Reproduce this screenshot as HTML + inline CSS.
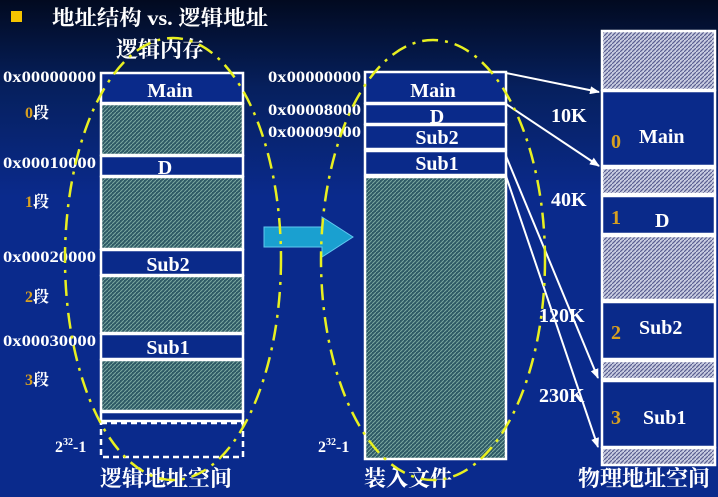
<!DOCTYPE html>
<html><head><meta charset="utf-8"><style>
body{margin:0;width:718px;height:492px;overflow:hidden;background:#0a2a8c}
svg text{font-family:"Liberation Serif","Noto Serif CJK SC",serif;font-weight:bold;fill:#fff}
</style></head><body>
<svg width="718" height="492" xmlns="http://www.w3.org/2000/svg">
<defs>
<linearGradient id="bg" x1="0" y1="0" x2="0" y2="1">
<stop offset="0" stop-color="#020a20"/><stop offset="0.18" stop-color="#06205e"/><stop offset="0.4" stop-color="#0a2a8c"/><stop offset="1" stop-color="#0a2a8c"/>
</linearGradient>
<pattern id="h1" width="4" height="4" patternUnits="userSpaceOnUse">
<rect width="4" height="4" fill="#2e5a66"/><path d="M0 4L4 0" stroke="#7aa8a0" stroke-width="1"/>
</pattern>
<pattern id="h2" width="4" height="4" patternUnits="userSpaceOnUse">
<rect width="4" height="4" fill="#c8cce0"/><path d="M0 4L4 0" stroke="#5a5f90" stroke-width="1.2"/>
</pattern>
<marker id="ar" markerWidth="10" markerHeight="8" refX="9" refY="4" orient="auto" markerUnits="userSpaceOnUse">
<path d="M0 0L10 4L0 8z" fill="#fff"/></marker>
</defs>
<rect width="718" height="492" fill="url(#bg)"/>
<rect x="11" y="11" width="11" height="11" fill="#f5c400"/>
<text x="52" y="25" font-size="21" textLength="216" lengthAdjust="spacingAndGlyphs">地址结构 vs. 逻辑地址</text>
<text x="116" y="57" font-size="22">逻辑内存</text>

<!-- left column -->
<g stroke="#fff" stroke-width="2.5">
<rect x="101" y="73" width="142" height="30" fill="#0a2a8a"/>
<rect x="101" y="104" width="142" height="51" fill="url(#h1)"/>
<rect x="101" y="156" width="142" height="20" fill="#0a2a8a"/>
<rect x="101" y="177" width="142" height="72" fill="url(#h1)"/>
<rect x="101" y="250" width="142" height="25" fill="#0a2a8a"/>
<rect x="101" y="276" width="142" height="57" fill="url(#h1)"/>
<rect x="101" y="334" width="142" height="25" fill="#0a2a8a"/>
<rect x="101" y="360" width="142" height="51" fill="url(#h1)"/>
<rect x="101" y="412" width="142" height="9" fill="#0a2a8a"/>
<rect x="101" y="423" width="142" height="34" fill="none" stroke-dasharray="6,4"/>
</g>
<g font-size="20" text-anchor="middle">
<text x="170" y="97">Main</text><text x="165" y="174">D</text>
<text x="168" y="271">Sub2</text><text x="168" y="354">Sub1</text>
</g>
<g font-size="16">
<text x="3" y="82" textLength="93" lengthAdjust="spacingAndGlyphs">0x00000000</text>
<text x="3" y="168" textLength="93" lengthAdjust="spacingAndGlyphs">0x00010000</text>
<text x="3" y="262" textLength="93" lengthAdjust="spacingAndGlyphs">0x00020000</text>
<text x="3" y="346" textLength="93" lengthAdjust="spacingAndGlyphs">0x00030000</text>
<text x="25" y="118"><tspan fill="#f0b020" style="fill:#d8a020">0</tspan>段</text>
<text x="25" y="207"><tspan style="fill:#d8a020">1</tspan>段</text>
<text x="25" y="302"><tspan style="fill:#d8a020">2</tspan>段</text>
<text x="25" y="385"><tspan style="fill:#d8a020">3</tspan>段</text>
<text x="55" y="452">2<tspan font-size="10" dy="-7">32</tspan><tspan dy="7">-1</tspan></text>
<text x="318" y="452">2<tspan font-size="10" dy="-7">32</tspan><tspan dy="7">-1</tspan></text>
</g>
<text x="100" y="486" font-size="22">逻辑地址空间</text>
<text x="364" y="486" font-size="22">装入文件</text>
<text x="578" y="486" font-size="22">物理地址空间</text>

<!-- arrow -->
<path d="M264 227H322V217L353 237L322 257V247H264z" fill="#1aa0d0" stroke="#60c8f0" stroke-width="1"/>

<!-- middle column -->
<g stroke="#fff" stroke-width="2.5">
<rect x="365" y="72" width="141" height="31" fill="#0a2a8a"/>
<rect x="365" y="104" width="141" height="20" fill="#0a2a8a"/>
<rect x="365" y="125" width="141" height="24" fill="#0a2a8a"/>
<rect x="365" y="151" width="141" height="24" fill="#0a2a8a"/>
<rect x="365" y="177" width="141" height="282" fill="url(#h1)"/>
</g>
<g font-size="20" text-anchor="middle">
<text x="433" y="97">Main</text><text x="437" y="123">D</text>
<text x="437" y="144">Sub2</text><text x="437" y="170">Sub1</text>
</g>
<g font-size="16">
<text x="268" y="82" textLength="93" lengthAdjust="spacingAndGlyphs">0x00000000</text>
<text x="268" y="115" textLength="93" lengthAdjust="spacingAndGlyphs">0x00008000</text>
<text x="268" y="137" textLength="93" lengthAdjust="spacingAndGlyphs">0x00009000</text>
</g>

<!-- right column -->
<g stroke="#fff" stroke-width="2.5">
<rect x="602" y="31" width="113" height="59" fill="url(#h2)"/>
<rect x="602" y="91" width="113" height="75" fill="#0a2a8a"/>
<rect x="602" y="168" width="113" height="26" fill="url(#h2)"/>
<rect x="602" y="196" width="113" height="38" fill="#0a2a8a"/>
<rect x="602" y="236" width="113" height="64" fill="url(#h2)"/>
<rect x="602" y="302" width="113" height="57" fill="#0a2a8a"/>
<rect x="602" y="361" width="113" height="18" fill="url(#h2)"/>
<rect x="602" y="381" width="113" height="66" fill="#0a2a8a"/>
<rect x="602" y="448" width="113" height="17" fill="url(#h2)"/>
</g>
<g font-size="20">
<text x="639" y="143">Main</text><text x="655" y="227">D</text>
<text x="639" y="334">Sub2</text><text x="643" y="424">Sub1</text>
<text x="611" y="148" style="fill:#d8a020">0</text>
<text x="611" y="224" style="fill:#d8a020">1</text>
<text x="611" y="339" style="fill:#d8a020">2</text>
<text x="611" y="424" style="fill:#d8a020">3</text>
<text x="551" y="122">10K</text><text x="551" y="206">40K</text>
<text x="539" y="322">120K</text><text x="539" y="402">230K</text>
</g>
<g stroke="#fff" stroke-width="2" fill="none" marker-end="url(#ar)">
<line x1="506" y1="73" x2="599" y2="92"/>
<line x1="506" y1="104" x2="599" y2="166"/>
<line x1="506" y1="156" x2="598" y2="378"/>
<line x1="506" y1="176" x2="598" y2="447"/>
</g>

<!-- ellipses -->
<g fill="none" stroke="#e8f020" stroke-width="2.5" stroke-dasharray="16,7,3,7">
<ellipse cx="173" cy="259" rx="108" ry="221"/>
<ellipse cx="433" cy="260" rx="112" ry="220"/>
</g>
</svg>
</body></html>
